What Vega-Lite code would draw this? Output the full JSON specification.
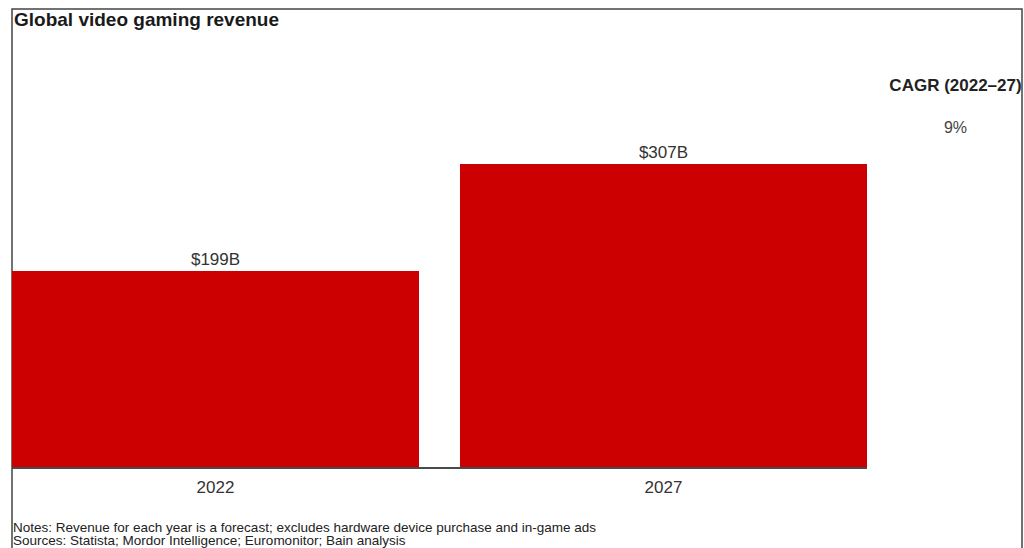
{
  "$schema": "https://vega.github.io/schema/vega-lite/v6.json",
  "width": 1010,
  "height": 560,
  "autosize": {"type": "none"},
  "padding": {"left": 12, "top": 9, "right": 2, "bottom": 0},
  "background": "white",
  "config": {"view": {"stroke": "#444", "strokeWidth": 1.5}, "font": "Liberation Sans"},
  "datasets": {
    "revenue": [
      {"year": "2022", "revenue": 199, "label": "$199B"},
      {"year": "2027", "revenue": 307, "label": "$307B"}
    ],
    "cagr": [
      {"year": "2027", "revenue": 307, "metric": "CAGR (2022–27)", "value": "9%"}
    ],
    "notes": [
      {"year": "2022", "revenue": 0, "title": "Global video gaming revenue", "notes": "Notes: Revenue for each year is a forecast; excludes hardware device purchase and in-game ads", "sources": "Sources: Statista; Mordor Intelligence; Euromonitor; Bain analysis"}
    ]
  },
  "layer": [
    {
      "data": {"name": "revenue"},
      "encoding": {
        "x": {
          "field": "year",
          "type": "nominal",
          "scale": {"domain": ["2022", "2027"], "range": [0, 855], "paddingInner": 0.0915, "paddingOuter": 0},
          "axis": null
        },
        "y": {
          "field": "revenue",
          "type": "quantitative",
          "scale": {"domain": [-102, 463.6], "nice": false, "zero": false},
          "axis": null
        }
      },
      "layer": [
        {"mark": {"type": "bar", "color": "#CC0000"}},
        {
          "mark": {"type": "text", "baseline": "alphabetic", "dy": -6, "fontSize": 17, "color": "#333"},
          "encoding": {"text": {"field": "label"}}
        },
        {
          "mark": {"type": "text", "baseline": "alphabetic", "dy": 25, "fontSize": 17, "color": "#333"},
          "encoding": {"y": {"datum": 0}, "text": {"field": "year"}}
        }
      ]
    },
    {
      "data": {"name": "revenue"},
      "mark": {"type": "rule", "color": "#4a4a4a", "strokeWidth": 2},
      "encoding": {
        "x": {"datum": "2022", "bandPosition": 0},
        "x2": {"datum": "2027", "bandPosition": 1},
        "y": {"datum": 0}
      }
    },
    {
      "data": {"name": "cagr"},
      "encoding": {
        "x": {"field": "year", "type": "nominal"},
        "y": {"field": "revenue", "type": "quantitative"}
      },
      "layer": [
        {
          "mark": {"type": "text", "baseline": "alphabetic", "dx": 292, "dy": -73, "fontSize": 17, "fontWeight": "bold", "color": "#222"},
          "encoding": {"text": {"field": "metric"}}
        },
        {
          "mark": {"type": "text", "baseline": "alphabetic", "dx": 292, "dy": -31, "fontSize": 16, "color": "#444"},
          "encoding": {"text": {"field": "value"}}
        }
      ]
    },
    {
      "data": {"name": "notes"},
      "encoding": {
        "x": {"field": "year", "type": "nominal", "bandPosition": 0},
        "y": {"field": "revenue", "type": "quantitative"}
      },
      "layer": [
        {
          "mark": {"type": "text", "baseline": "alphabetic", "align": "left", "dx": 2, "dy": -442, "fontSize": 19, "fontWeight": "bold", "color": "#1a1a1a"},
          "encoding": {"text": {"field": "title"}}
        },
        {
          "mark": {"type": "text", "baseline": "alphabetic", "align": "left", "dx": 1, "dy": 64, "fontSize": 13.5, "color": "#222"},
          "encoding": {"text": {"field": "notes"}}
        },
        {
          "mark": {"type": "text", "baseline": "alphabetic", "align": "left", "dx": 1, "dy": 77, "fontSize": 13.5, "color": "#222"},
          "encoding": {"text": {"field": "sources"}}
        }
      ]
    }
  ]
}
